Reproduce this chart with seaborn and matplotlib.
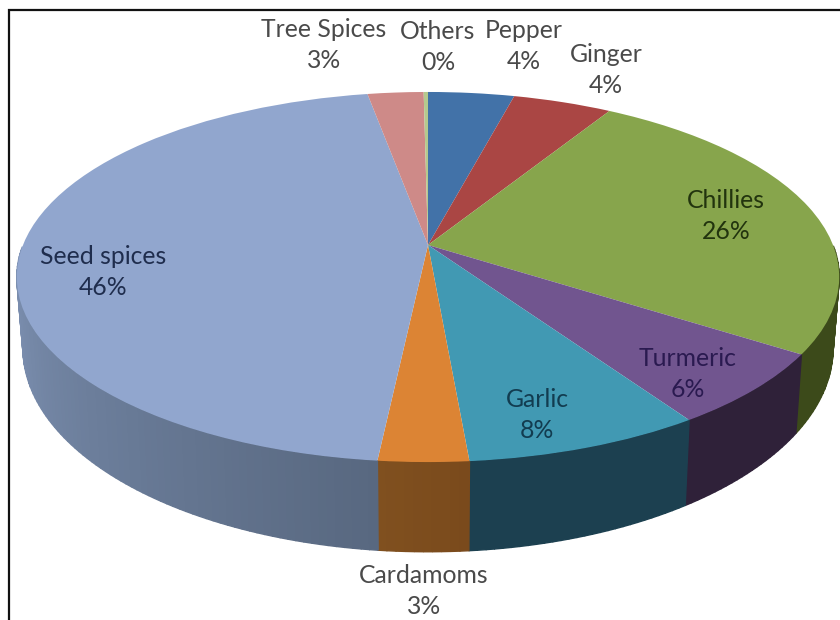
import numpy as np
import matplotlib
matplotlib.use("Agg")
import matplotlib.pyplot as plt
from matplotlib.colors import to_rgb
from matplotlib.transforms import Transform
import seaborn as sns

# ---- data ----
categories = ["Pepper", "Ginger", "Chillies", "Turmeric", "Garlic",
              "Cardamoms", "Seed spices", "Tree Spices", "Others"]
shares = [4.0, 4.6, 25.7, 6.4, 7.95, 3.0, 45.55, 2.6, 0.2]
share_labels = ["4%", "4%", "26%", "6%", "8%", "3%", "46%", "3%", "0%"]

# ---- styles ----
top_colors = ["#4272A8", "#AA4644", "#87A54C", "#71558F", "#4199B3",
              "#DC8434", "#91A6CE", "#CE8A88", "#B5C98E"]
wall_start = ["#2C4A6E", "#6E2D2C", "#3C4A1A", "#2F2139", "#1C4050",
              "#80501F", "#A8C0EC", "#85595A", "#70804F"]
wall_end = ["#2C4A6E", "#6E2D2C", "#3C4A1A", "#2F2139", "#1C4050",
            "#7A4A1C", "#586880", "#85595A", "#70804F"]
text_colors = ["#4A4A4A", "#4A4A4A", "#22340E", "#2A1A50", "#123C50",
               "#4A4A4A", "#1F2D4D", "#4A4A4A", "#4A4A4A"]
label_xy = [(524, 46), (606, 70), (726, 216), (688, 374), (537, 415),
            (424, 591), (103, 272), (324, 45), (438, 47)]

sns.set_theme(style="white")
plt.rcParams["font.family"] = ["Lato", "DejaVu Sans"]
palette = sns.color_palette(top_colors)

CX, CY = 428.0, 245.0      # apex of the slices, pixels
A, B, K = 405.0, 179.5, 0.173  # perspective of the disc


def project(x, y):
    d = 1 + K * y
    return CX + A * x / d, CY - B * y / d


def project_floor(x, y):
    px, py = project(x, y)
    return CX + 0.985 * (px - CX), 313.0 + 1.10 * (py - CY)


class Perspective(Transform):
    input_dims = 2
    output_dims = 2
    is_separable = False
    has_inverse = False

    def transform_non_affine(self, values):
        v = np.asarray(values, dtype=float)
        return np.column_stack(project(v[:, 0], v[:, 1]))


fig = plt.figure(figsize=(8.4, 6.2), dpi=100, facecolor="white")
ax = fig.add_axes([0, 0, 1, 1])
wedges, _ = ax.pie(shares, startangle=90, counterclock=False, radius=1.0,
                   colors=palette, wedgeprops={"linewidth": 0})
ax.set_aspect("auto")
ax.set_xlim(0, 840)
ax.set_ylim(620, 0)
ax.axis("off")

# side wall of each slice, shaded strip by strip (front half only)
persp = Perspective() + ax.transData
for w, c0, c1 in zip(wedges, wall_start, wall_end):
    w.set_transform(persp)
    w.set_zorder(3)
    c0, c1 = np.array(to_rgb(c0)), np.array(to_rgb(c1))
    t0, t1 = w.theta1, w.theta2
    n = max(2, int((t1 - t0) / 1.0))
    edges = np.radians(np.linspace(t0, t1, n + 1))
    for i in range(n):
        th = edges[i:i + 2]
        if np.sin(th).max() > 0:
            continue
        xt, yt = project(np.cos(th), np.sin(th))
        xb, yb = project_floor(np.cos(th), np.sin(th))
        col = c0 + (c1 - c0) * (i + 0.5) / n
        ax.fill(np.r_[xt, xb[::-1]], np.r_[yt, yb[::-1]], color=col,
                lw=1.0, zorder=2)

for name, pct, (lx, ly), tc in zip(categories, share_labels, label_xy, text_colors):
    ax.text(lx, ly, f"{name}\n{pct}", ha="center", va="center", fontsize=17.8,
            color=tc, linespacing=1.45, zorder=5)

# picture frame
ax.plot([9, 9, 840], [620, 10, 10], color="#111111", lw=1.6, zorder=6,
        solid_joinstyle="miter", clip_on=True)

fig.savefig("out.png", dpi=100)
